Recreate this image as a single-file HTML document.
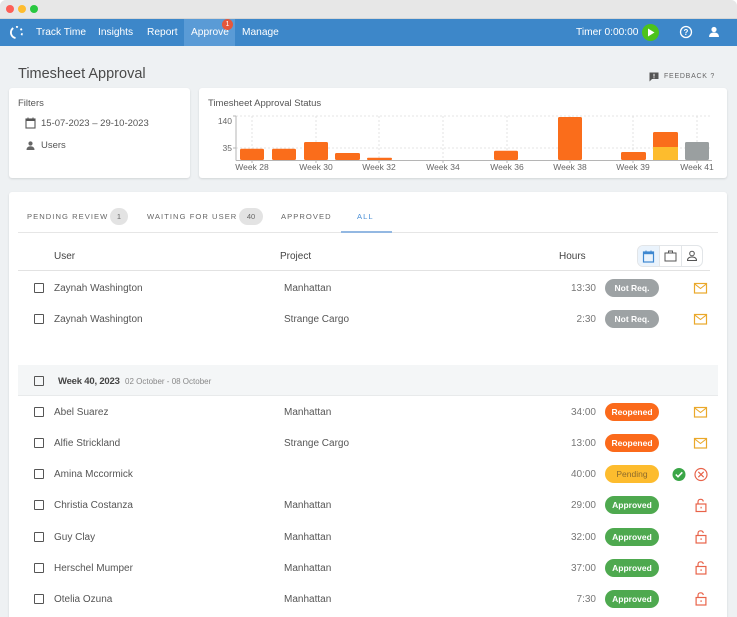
<!DOCTYPE html>
<html><head><meta charset="utf-8">
<style>
*{margin:0;padding:0;box-sizing:border-box}
body{width:737px;height:617px;overflow:hidden;background:#fff;font-family:"Liberation Sans",Arial,sans-serif;position:relative}
.abs{position:absolute}
.win{position:absolute;left:0;top:0;width:737px;height:617px;background:#eef1f3;border-radius:6px 6px 0 0;overflow:hidden}
.titlebar{position:absolute;left:0;top:0;width:737px;height:19px;background:#e7e7e7;border-bottom:1px solid #d6d6d6}
.dot{position:absolute;top:5px;width:8px;height:8px;border-radius:50%}
.nav{position:absolute;left:0;top:19px;width:737px;height:27px;background:#3d87c9}
.nav span{position:absolute;top:0;line-height:27px;color:#fff;font-size:10.2px}
.card{position:absolute;background:#fff;border-radius:3px;box-shadow:0 1px 2px rgba(0,0,0,.12)}
.t{position:absolute;white-space:nowrap}
.cb{position:absolute;left:34px;width:10px;height:10px;border:1.3px solid #555;border-radius:1px}
.name{position:absolute;left:54px;font-size:10px;color:#555;white-space:nowrap}
.proj{position:absolute;left:284px;font-size:10px;color:#555;white-space:nowrap}
.hrs{position:absolute;right:141px;font-size:10px;color:#777;text-align:right}
.pill{position:absolute;left:605px;width:54px;height:18px;border-radius:9px;color:#fff;font-size:8.5px;font-weight:bold;text-align:center;line-height:18px}
.tab{position:absolute;top:212px;font-size:7.6px;letter-spacing:1.05px;color:#666;white-space:nowrap}
.badge{position:absolute;top:208px;height:17px;border-radius:9px;background:#e3e3e3;color:#666;font-size:7.5px;text-align:center;line-height:17px}
</style></head><body>
<div class="win">
  <div class="titlebar">
    <div class="dot" style="left:6px;background:#fd5f57"></div>
    <div class="dot" style="left:18px;background:#febc2e"></div>
    <div class="dot" style="left:30px;background:#29c840"></div>
  </div>
  <div class="nav">
    <svg class="abs" style="left:9px;top:6px" width="15" height="15" viewBox="0 0 15 15">
      <circle cx="7.5" cy="7.5" r="5.6" fill="none" stroke="#fff" stroke-width="1.8" stroke-dasharray="13 3 2 3 2 3 2 20" transform="rotate(100 7.5 7.5)"/>
    </svg>
    <span style="left:36px">Track Time</span>
    <span style="left:98px">Insights</span>
    <span style="left:147px">Report</span>
    <div class="abs" style="left:184px;top:0;width:51px;height:27px;background:#5a9bd6"></div>
    <span style="left:191px">Approve</span>
    <div class="abs" style="left:222px;top:0px;width:11px;height:11px;border-radius:50%;background:#e5573b;color:#fff;font-size:7px;text-align:center;line-height:11px">1</div>
    <span style="left:242px">Manage</span>
    <span style="left:576px">Timer 0:00:00</span>
    <svg class="abs" style="left:641px;top:4px" width="19" height="19" viewBox="0 0 19 19">
      <circle cx="9.5" cy="9.5" r="8.5" fill="#4cc31c"/>
      <path d="M7 5.5 L13.5 9.5 L7 13.5Z" fill="#fff"/>
    </svg>
    <svg class="abs" style="left:679px;top:6px" width="14" height="14" viewBox="0 0 14 14">
      <circle cx="7" cy="7" r="5.5" fill="none" stroke="#fff" stroke-width="1.3"/>
      <text x="7" y="10" font-size="8" font-weight="bold" fill="#fff" text-anchor="middle" font-family="Liberation Sans">?</text>
    </svg>
    <svg class="abs" style="left:708px;top:7px" width="12" height="12" viewBox="0 0 12 12">
      <circle cx="6" cy="3.5" r="2.6" fill="#fff"/>
      <path d="M1 11 Q1 6.5 6 6.5 Q11 6.5 11 11Z" fill="#fff"/>
    </svg>
  </div>

  <div class="t" style="left:18px;top:66px;font-size:14.5px;color:#4a4a4a">Timesheet Approval</div>
  <svg class="abs" style="left:649px;top:72px" width="10" height="10" viewBox="0 0 10 10">
    <path d="M0.5 0.5 H9.5 V7 H3 L0.5 9.5Z" fill="#555"/>
    <rect x="4.5" y="1.8" width="1" height="2.8" fill="#fff"/><rect x="4.5" y="5.3" width="1" height="1" fill="#fff"/>
  </svg>
  <div class="t" style="left:664px;top:73px;font-size:7px;letter-spacing:0.75px;color:#666">FEEDBACK ?</div>

  <!-- Filters card -->
  <div class="card" style="left:9px;top:88px;width:181px;height:90px">
    <div class="t" style="left:9px;top:10px;font-size:9.5px;color:#555">Filters</div>
    <svg class="abs" style="left:16px;top:29px" width="11" height="12" viewBox="0 0 11 12">
      <rect x="1" y="2" width="9" height="9" fill="none" stroke="#555" stroke-width="1.1"/>
      <rect x="1" y="2" width="9" height="2" fill="#555"/>
      <rect x="2.5" y="0.5" width="1" height="2" fill="#555"/><rect x="7.5" y="0.5" width="1" height="2" fill="#555"/>
    </svg>
    <div class="t" style="left:32px;top:30px;font-size:9.5px;color:#555">15-07-2023 – 29-10-2023</div>
    <svg class="abs" style="left:17px;top:53px" width="9" height="9" viewBox="0 0 9 9">
      <circle cx="4.5" cy="2.5" r="2.1" fill="#666"/>
      <path d="M0.5 9 Q0.5 5.2 4.5 5.2 Q8.5 5.2 8.5 9Z" fill="#666"/>
    </svg>
    <div class="t" style="left:32px;top:52px;font-size:9.5px;color:#555">Users</div>
  </div>

  <!-- Chart card -->
  <div class="card" style="left:199px;top:88px;width:528px;height:90px">
    <div class="t" style="left:9px;top:10px;font-size:9.5px;color:#555">Timesheet Approval Status</div>
  </div>
  <svg class="abs" style="left:0;top:0" width="737" height="200" viewBox="0 0 737 200">
    <g stroke="#dcdcdc" stroke-width="0.8" stroke-dasharray="2 2">
      <line x1="236" y1="116" x2="712" y2="116"/>
      <line x1="236" y1="148" x2="712" y2="148"/>
      <line x1="252" y1="116" x2="252" y2="160"/>
      <line x1="316" y1="116" x2="316" y2="160"/>
      <line x1="379" y1="116" x2="379" y2="160"/>
      <line x1="443" y1="116" x2="443" y2="160"/>
      <line x1="507" y1="116" x2="507" y2="160"/>
      <line x1="570" y1="116" x2="570" y2="160"/>
      <line x1="633" y1="116" x2="633" y2="160"/>
      <line x1="697" y1="116" x2="697" y2="160"/>
    </g>
    <g fill="#fa6d1b">
      <rect x="240" y="148.7" width="24" height="11.3" rx="1.5"/>
      <rect x="272" y="148.7" width="24" height="11.3" rx="1.5"/>
      <rect x="304" y="142" width="24" height="18" rx="1.5"/>
      <rect x="335" y="153" width="25" height="7" rx="1.5"/>
      <rect x="367" y="157.7" width="25" height="2.3" rx="1"/>
      <rect x="494" y="150.7" width="24" height="9.3" rx="1.5"/>
      <rect x="558" y="117" width="24" height="43" rx="1.5"/>
      <rect x="621" y="152" width="25" height="8" rx="1.5"/>
      <rect x="653" y="132" width="25" height="16" rx="1.5"/>
    </g>
    <rect x="653" y="147" width="25" height="13" fill="#fdbc2d"/>
    <rect x="685" y="142" width="24" height="18" rx="1.5" fill="#9a9fa0"/>
    <g stroke="#b5b5b5" stroke-width="1">
      <line x1="236" y1="116" x2="236" y2="160.5"/>
      <line x1="233" y1="116" x2="236" y2="116"/>
      <line x1="233" y1="148" x2="236" y2="148"/>
      <line x1="236" y1="160.5" x2="712" y2="160.5"/>
      <line x1="252" y1="160" x2="252" y2="163"/><line x1="316" y1="160" x2="316" y2="163"/>
      <line x1="379" y1="160" x2="379" y2="163"/><line x1="443" y1="160" x2="443" y2="163"/>
      <line x1="507" y1="160" x2="507" y2="163"/><line x1="570" y1="160" x2="570" y2="163"/>
      <line x1="633" y1="160" x2="633" y2="163"/><line x1="697" y1="160" x2="697" y2="163"/>
    </g>
    <g font-family="Liberation Sans" font-size="8.5" fill="#666">
      <text x="232" y="124" text-anchor="end">140</text>
      <text x="232" y="151" text-anchor="end">35</text>
      <g text-anchor="middle">
        <text x="252" y="170">Week 28</text>
        <text x="316" y="170">Week 30</text>
        <text x="379" y="170">Week 32</text>
        <text x="443" y="170">Week 34</text>
        <text x="507" y="170">Week 36</text>
        <text x="570" y="170">Week 38</text>
        <text x="633" y="170">Week 39</text>
        <text x="697" y="170">Week 41</text>
      </g>
    </g>
  </svg>

  <!-- Main card -->
  <div class="card" style="left:9px;top:192px;width:718px;height:440px"></div>
  <div class="tab" style="left:27px">PENDING REVIEW</div>
  <div class="badge" style="left:110px;width:18px">1</div>
  <div class="tab" style="left:147px">WAITING FOR USER</div>
  <div class="badge" style="left:239px;width:24px">40</div>
  <div class="tab" style="left:281px">APPROVED</div>
  <div class="tab" style="left:357px;color:#4a8fd6">ALL</div>
  <div class="abs" style="left:18px;top:232px;width:700px;height:1px;background:#e6e6e6"></div>
  <div class="abs" style="left:341px;top:231px;width:51px;height:2px;background:#93b8e2"></div>

  <div class="t" style="left:54px;top:251px;font-size:10px;color:#444">User</div>
  <div class="t" style="left:280px;top:251px;font-size:10px;color:#444">Project</div>
  <div class="t" style="left:559px;top:251px;font-size:10px;color:#444">Hours</div>
  <div class="abs" style="left:637px;top:245px;width:66px;height:22px;border:1px solid #e2e5e8;border-radius:6px"></div>
  <div class="abs" style="left:638px;top:246px;width:21px;height:20px;background:#eaf3fc;border-radius:5px 0 0 5px"></div>
  <div class="abs" style="left:659px;top:246px;width:1px;height:20px;background:#e2e5e8"></div>
  <div class="abs" style="left:681px;top:246px;width:1px;height:20px;background:#e2e5e8"></div>
  <svg class="abs" style="left:642px;top:250px" width="13" height="13" viewBox="0 0 13 13">
    <rect x="1.5" y="2" width="10" height="10" fill="none" stroke="#3d87d0" stroke-width="1.2"/>
    <rect x="1.5" y="2" width="10" height="2.2" fill="#3d87d0"/>
    <rect x="3.5" y="0.5" width="1" height="2" fill="#3d87d0"/><rect x="8.5" y="0.5" width="1" height="2" fill="#3d87d0"/>
  </svg>
  <svg class="abs" style="left:664px;top:250px" width="13" height="12" viewBox="0 0 13 12">
    <rect x="1" y="3" width="11" height="8" fill="none" stroke="#555" stroke-width="1"/>
    <path d="M4.5 3 V1 H8.5 V3" fill="none" stroke="#555" stroke-width="1"/>
  </svg>
  <svg class="abs" style="left:686px;top:250px" width="12" height="12" viewBox="0 0 12 12">
    <circle cx="6" cy="3.5" r="2.3" fill="none" stroke="#555" stroke-width="1"/>
    <path d="M1.5 10.5 Q1.5 7 6 7 Q10.5 7 10.5 10.5Z" fill="none" stroke="#555" stroke-width="1"/>
  </svg>
  <div class="abs" style="left:18px;top:270px;width:692px;height:1px;background:#e2e2e2"></div>

  <!-- rows -->
  <div class="cb" style="top:283px"></div><div class="name" style="top:283px">Zaynah Washington</div><div class="proj" style="top:283px">Manhattan</div><div class="hrs" style="top:283px">13:30</div>
  <div class="pill" style="top:279px;background:#9da2a4">Not Req.</div>
  <div class="cb" style="top:314px"></div><div class="name" style="top:314px">Zaynah Washington</div><div class="proj" style="top:314px">Strange Cargo</div><div class="hrs" style="top:314px">2:30</div>
  <div class="pill" style="top:310px;background:#9da2a4">Not Req.</div>

  <div class="abs" style="left:18px;top:365px;width:700px;height:31px;background:#f4f6f7;border-bottom:1px solid #e8eaeb"></div>
  <div class="cb" style="top:376px"></div>
  <div class="t" style="left:58px;top:376px;font-size:9.5px;color:#444;font-weight:bold;letter-spacing:-0.2px">Week 40, 2023</div>
  <div class="t" style="left:125px;top:377px;font-size:8px;color:#888">02 October - 08 October</div>

  <div class="cb" style="top:407px"></div><div class="name" style="top:407px">Abel Suarez</div><div class="proj" style="top:407px">Manhattan</div><div class="hrs" style="top:407px">34:00</div>
  <div class="pill" style="top:403px;background:#fb6a1b">Reopened</div>
  <div class="cb" style="top:438px"></div><div class="name" style="top:438px">Alfie Strickland</div><div class="proj" style="top:438px">Strange Cargo</div><div class="hrs" style="top:438px">13:00</div>
  <div class="pill" style="top:434px;background:#fb6a1b">Reopened</div>
  <div class="cb" style="top:469px"></div><div class="name" style="top:469px">Amina Mccormick</div><div class="hrs" style="top:469px">40:00</div>
  <div class="pill" style="top:465px;background:#fdbc2e;color:#8c6a2c;font-weight:normal">Pending</div>
  <div class="cb" style="top:500px"></div><div class="name" style="top:500px">Christia Costanza</div><div class="proj" style="top:500px">Manhattan</div><div class="hrs" style="top:500px">29:00</div>
  <div class="pill" style="top:496px;background:#4ea94f">Approved</div>
  <div class="cb" style="top:532px"></div><div class="name" style="top:532px">Guy Clay</div><div class="proj" style="top:532px">Manhattan</div><div class="hrs" style="top:532px">32:00</div>
  <div class="pill" style="top:528px;background:#4ea94f">Approved</div>
  <div class="cb" style="top:563px"></div><div class="name" style="top:563px">Herschel Mumper</div><div class="proj" style="top:563px">Manhattan</div><div class="hrs" style="top:563px">37:00</div>
  <div class="pill" style="top:559px;background:#4ea94f">Approved</div>
  <div class="cb" style="top:594px"></div><div class="name" style="top:594px">Otelia Ozuna</div><div class="proj" style="top:594px">Manhattan</div><div class="hrs" style="top:594px">7:30</div>
  <div class="pill" style="top:590px;background:#4ea94f">Approved</div>

  <!-- action icons -->
  <svg class="abs" style="left:0;top:0" width="737" height="617" viewBox="0 0 737 617">
    <defs>
      <g id="env"><rect x="0.5" y="0.5" width="12" height="9.5" fill="none" stroke="#eaa82a" stroke-width="1.2"/><path d="M0.5 0.8 L6.5 5.5 L12.5 0.8" fill="none" stroke="#eaa82a" stroke-width="1"/></g>
      <g id="lock"><path d="M2.5 5.5 V3.5 Q2.5 0.8 5 0.8 Q7.5 0.8 7.8 3" fill="none" stroke="#e8634a" stroke-width="1.2"/><rect x="0.6" y="5.5" width="9.8" height="7.5" fill="none" stroke="#e8634a" stroke-width="1.2"/><rect x="5" y="8.3" width="1.2" height="1.6" fill="#e8634a"/></g>
    </defs>
    <use href="#env" x="694" y="283"/>
    <use href="#env" x="694" y="314"/>
    <use href="#env" x="694" y="407"/>
    <use href="#env" x="694" y="438"/>
    <circle cx="679" cy="474.5" r="6.5" fill="#3aa647"/>
    <path d="M675.8 474.5 L678 476.8 L682.3 472.3" fill="none" stroke="#fff" stroke-width="1.5"/>
    <circle cx="701" cy="474.5" r="6" fill="none" stroke="#e8634a" stroke-width="1.2"/>
    <path d="M698.3 471.8 L703.7 477.2 M703.7 471.8 L698.3 477.2" stroke="#e8634a" stroke-width="1.2"/>
    <use href="#lock" x="695.5" y="498.5"/>
    <use href="#lock" x="695.5" y="530"/>
    <use href="#lock" x="695.5" y="561"/>
    <use href="#lock" x="695.5" y="592"/>
  </svg>
</div>
</body></html>
